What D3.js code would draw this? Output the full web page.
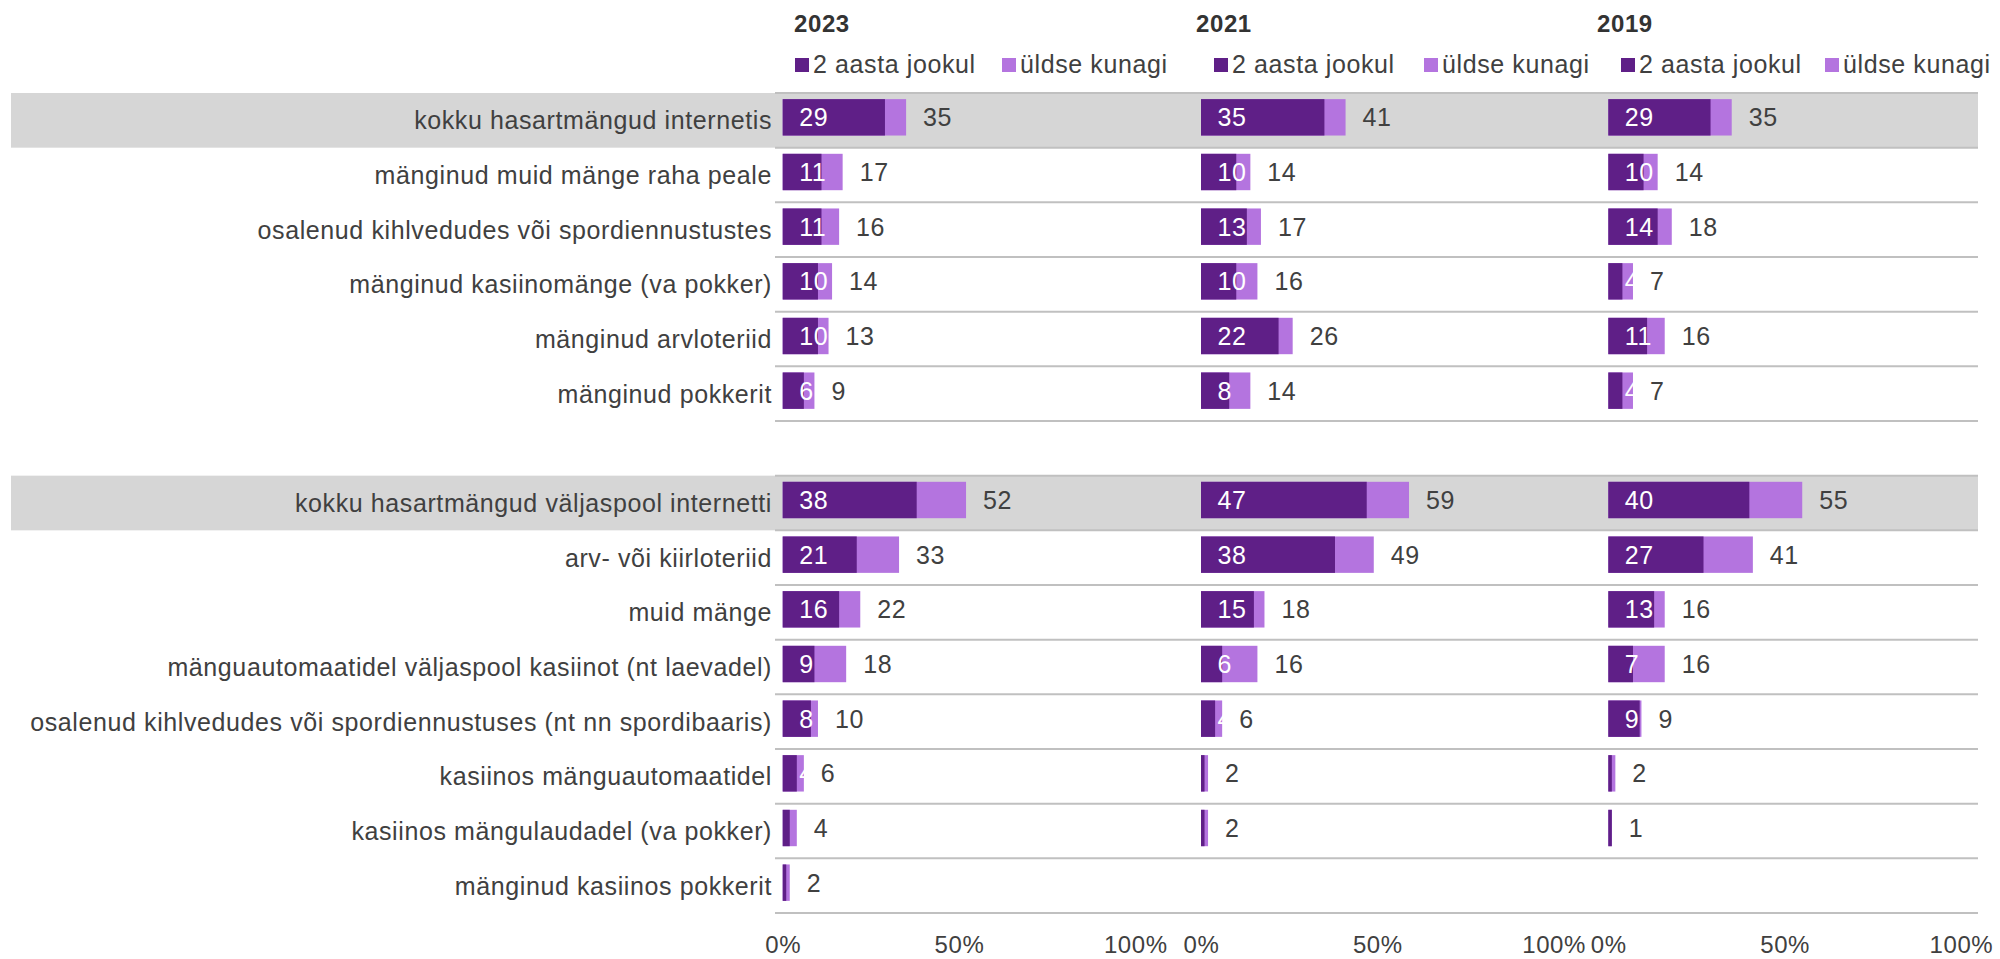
<!DOCTYPE html>
<html>
<head>
<meta charset="utf-8">
<script src="https://cdn.jsdelivr.net/npm/d3@7"></script>
<style>
  body { margin: 0; background: #fff; }
  text { font-family: "Liberation Sans", Arial, sans-serif; fill: #404040; }
</style>
</head>
<body>
<div id="chart"></div>
<script>
// categories (a blank " " row separates the two groups)
var categories = [
  "kokku hasartmängud internetis",
  "mänginud muid mänge raha peale",
  "osalenud kihlvedudes või spordiennustustes",
  "mänginud kasiinomänge (va pokker)",
  "mänginud arvloteriid",
  "mänginud pokkerit",
  " ",
  "kokku hasartmängud väljaspool internetti",
  "arv- või kiirloteriid",
  "muid mänge",
  "mänguautomaatidel väljaspool kasiinot (nt laevadel)",
  "osalenud kihlvedudes või spordiennustuses (nt nn spordibaaris)",
  "kasiinos mänguautomaatidel",
  "kasiinos mängulaudadel (va pokker)",
  "mänginud kasiinos pokkerit"
];
var totals = ["kokku hasartmängud internetis", "kokku hasartmängud väljaspool internetti"];

var years = ["2023", "2021", "2019"];
var seriesNames = ["2 aasta jookul", "üldse kunagi"];

// values in %
var recent2023 = [29, 11, 11, 10, 10, 6, null, 38, 21, 16, 9, 8, 4, 2, 1];
var ever2023   = [35, 17, 16, 14, 13, 9, null, 52, 33, 22, 18, 10, 6, 4, 2];
var recent2021 = [35, 10, 13, 10, 22, 8, null, 47, 38, 15, 6, 4, 1, 1, null];
var ever2021   = [41, 14, 17, 16, 26, 14, null, 59, 49, 18, 16, 6, 2, 2, null];
var recent2019 = [29, 10, 14, 4, 11, 4, null, 40, 27, 13, 7, 8.9, 1, 1, null];
var ever2019   = [35, 14, 18, 7, 16, 7, null, 55, 41, 16, 16, 9.4, 2, 1, null];

var xTicks = [0, 50, 100];

var recent = [recent2023, recent2021, recent2019];
var ever = [ever2023, ever2021, ever2019];

var colors = ["#5f1f87", "#b474df"];
var fmt = d3.format(".0f");

// layout
var width = 2000, height = 959;
var panelX = [782.7, 1201, 1608.3], panelW = 352.6;
var titleX = [794, 1196, 1597];
var legendX = [[795, 1002], [1214, 1424], [1621, 1825]];

var svg = d3.select("#chart")
  .append("svg")
    .attr("width", width)
    .attr("height", height);

var y = d3.scaleBand()
  .domain(categories)
  .range([93, 913]);

var barH = 36.4;
var barY = function (c) { return y(c) + y.bandwidth() / 2 - 3 - barH / 2; };

// grey highlight rows
svg.append("g")
  .selectAll("rect")
  .data(totals)
  .enter()
  .append("rect")
    .attr("x", 11)
    .attr("width", 1978 - 11)
    .attr("y", function (d) { return y(d); })
    .attr("height", y.bandwidth())
    .style("fill", "#d6d6d6");

// separator lines
var bounds = categories.map(function (c) { return y(c); }).concat([y.range()[1]]);
svg.append("g")
  .selectAll("line")
  .data(bounds)
  .enter()
  .append("line")
    .attr("x1", 775)
    .attr("x2", 1978)
    .attr("y1", function (d) { return d; })
    .attr("y2", function (d) { return d; })
    .style("stroke", "#c0c0c0")
    .style("stroke-width", 2);

// category labels
svg.append("g")
  .selectAll("text")
  .data(categories)
  .enter()
  .append("text")
    .attr("x", 772)
    .attr("y", function (d) { return y(d) + y.bandwidth() / 2; })
    .attr("dy", "0.36em")
    .attr("text-anchor", "end")
    .style("font-size", "25px")
    .style("letter-spacing", "0.6px")
    .text(function (d) { return d; });

years.forEach(function (year, i) {
  var x = d3.scaleLinear()
    .domain([0, 100])
    .range([panelX[i], panelX[i] + panelW]);

  var rows = categories.map(function (c, j) {
    return { cat: c, recent: recent[i][j], ever: ever[i][j] };
  }).filter(function (d) { return d.ever != null; });

  var g = svg.append("g");

  // light bars (ever) behind, dark bars (2 years) in front
  g.selectAll(".ever")
    .data(rows)
    .enter()
    .append("rect")
      .attr("class", "ever")
      .attr("x", x(0))
      .attr("y", function (d) { return barY(d.cat); })
      .attr("width", function (d) { return x(d.ever) - x(0); })
      .attr("height", barH)
      .style("fill", colors[1]);

  g.selectAll(".recent")
    .data(rows)
    .enter()
    .append("rect")
      .attr("class", "recent")
      .attr("x", x(0))
      .attr("y", function (d) { return barY(d.cat); })
      .attr("width", function (d) { return x(d.recent) - x(0); })
      .attr("height", barH)
      .style("fill", colors[0]);

  // white labels inside base (too thin bars show nothing visible)
  g.selectAll(".lblIn")
    .data(rows.filter(function (d) { return d.recent >= 3; }))
    .enter()
    .append("text")
      .attr("class", "lblIn")
      .attr("x", x(0) + 16.5)
      .attr("y", function (d) { return barY(d.cat) + barH / 2; })
      .attr("dy", "0.36em")
      .style("font-size", "25px")
      .style("letter-spacing", "0.6px")
      .style("fill", "#fff")
      .text(function (d) { return fmt(d.recent); });

  // total labels after bar
  g.selectAll(".lblOut")
    .data(rows)
    .enter()
    .append("text")
      .attr("class", "lblOut")
      .attr("x", function (d) { return x(d.ever) + 17; })
      .attr("y", function (d) { return barY(d.cat) + barH / 2; })
      .attr("dy", "0.36em")
      .style("font-size", "25px")
      .style("letter-spacing", "0.6px")
      .text(function (d) { return fmt(d.ever); });

  // x axis labels only
  var ax = svg.append("g")
    .attr("transform", "translate(0,913)")
    .call(d3.axisBottom(x).tickValues(xTicks).tickSize(0).tickPadding(23)
      .tickFormat(function (d) { return d + "%"; }));
  ax.select(".domain").remove();
  ax.selectAll("text")
    .style("font-size", "24px")
    .style("letter-spacing", "0.6px")
    .style("font-family", "'Liberation Sans', Arial, sans-serif")
    .style("fill", "#404040");

  // title
  svg.append("text")
    .attr("x", titleX[i])
    .attr("y", 32)
    .style("font-size", "24px")
    .style("font-weight", "bold")
    .style("letter-spacing", "0.6px")
    .style("fill", "#333")
    .text(year);

  // legend
  var lg = svg.append("g")
    .selectAll("g")
    .data(seriesNames)
    .enter()
    .append("g")
      .attr("transform", function (d, k) { return "translate(" + legendX[i][k] + ",0)"; });
  lg.append("rect")
    .attr("x", 0)
    .attr("y", 58)
    .attr("width", 14)
    .attr("height", 14)
    .style("fill", function (d, k) { return colors[k]; });
  lg.append("text")
    .attr("x", 18)
    .attr("y", 73)
    .style("font-size", "25px")
    .style("letter-spacing", "0.6px")
    .text(function (d) { return d; });
});
</script>
</body>
</html>
